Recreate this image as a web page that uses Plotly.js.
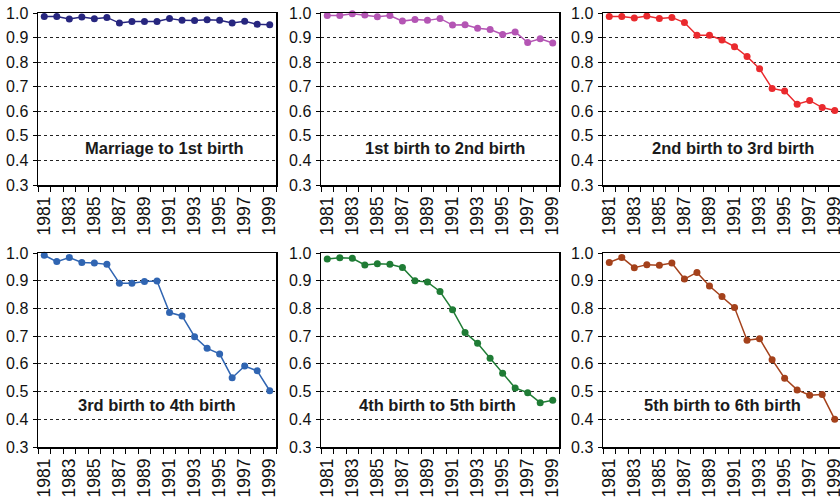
<!DOCTYPE html>
<html>
<head>
<meta charset="utf-8">
<script src="https://cdn.plot.ly/plotly-3.0.1.min.js"></script>
<style>
  html, body { margin: 0; padding: 0; overflow: hidden; background: #fff; }
  #chart { width: 842px; height: 498px; }
</style>
</head>
<body>
<div id="chart"></div>
<script>
// Survival ratios of birth-interval transitions, 1981-1999
const years = [1981, 1982, 1983, 1984, 1985, 1986, 1987, 1988, 1989, 1990,
               1991, 1992, 1993, 1994, 1995, 1996, 1997, 1998, 1999];
const tickYears = [1981, 1983, 1985, 1987, 1989, 1991, 1993, 1995, 1997, 1999];

const marriageTo1st = [0.986, 0.986, 0.976, 0.984, 0.977, 0.982, 0.959, 0.965, 0.965, 0.965,
                       0.978, 0.970, 0.969, 0.973, 0.970, 0.959, 0.966, 0.954, 0.952];
const first2second  = [0.990, 0.990, 0.997, 0.992, 0.985, 0.990, 0.967, 0.974, 0.970, 0.978,
                       0.951, 0.952, 0.938, 0.933, 0.913, 0.923, 0.880, 0.895, 0.878];
const second2third  = [0.986, 0.986, 0.980, 0.988, 0.978, 0.982, 0.961, 0.909, 0.909, 0.890,
                       0.863, 0.823, 0.773, 0.693, 0.683, 0.629, 0.644, 0.615, 0.603];
const third2fourth  = [0.992, 0.969, 0.984, 0.966, 0.964, 0.959, 0.891, 0.891, 0.897, 0.899,
                       0.785, 0.773, 0.698, 0.656, 0.636, 0.550, 0.592, 0.575, 0.503];
const fourth2fifth  = [0.978, 0.983, 0.981, 0.957, 0.961, 0.959, 0.948, 0.900, 0.895, 0.861,
                       0.795, 0.713, 0.674, 0.620, 0.566, 0.513, 0.496, 0.460, 0.469];
const fifth2sixth   = [0.966, 0.984, 0.947, 0.958, 0.956, 0.964, 0.906, 0.930, 0.881, 0.843,
                       0.803, 0.685, 0.691, 0.615, 0.548, 0.506, 0.487, 0.489, 0.400];

const panelLabels = ["Marriage to 1st birth", "1st birth to 2nd birth", "2nd birth to 3rd birth",
                     "3rd birth to 4th birth", "4th birth to 5th birth", "5th birth to 6th birth"];
const panelSeries = [marriageTo1st, first2second, second2third, third2fourth, fourth2fifth, fifth2sixth];

// styling
const lineColors = ["#27267f", "#b455b4", "#ea2a2e", "#3065b2", "#1f7c35", "#a4411b"];
const W = 842, H = 498;
const colPx = [[38, 276], [321, 559], [603, 841]];
const rowPx = [[13, 185], [253, 447]];
const labelX = [0.53, 0.52, 0.545, 0.5, 0.49, 0.5];
const fontFam = "Liberation Sans, Arial, sans-serif";
const yearFont = "Liberation Sans Narrow, Arial Narrow, Liberation Sans, sans-serif";

const data = [];
const layout = {
  width: W, height: H,
  margin: {l: 0, r: 0, t: 0, b: 0},
  paper_bgcolor: "#fff", plot_bgcolor: "#fff",
  showlegend: false,
  font: {family: fontFam, color: "#111"},
  annotations: []
};

panelSeries.forEach((vals, i) => {
  const n = i + 1;
  const xa = n === 1 ? "x" : "x" + n;
  const ya = n === 1 ? "y" : "y" + n;
  const col = i % 3, row = Math.floor(i / 3);

  data.push({
    type: "scatter", mode: "lines+markers",
    x: years, y: vals, xaxis: xa, yaxis: ya,
    line: {color: lineColors[i], width: 1.5},
    marker: {color: lineColors[i], size: 7},
    cliponaxis: false
  });

  layout["xaxis" + (n === 1 ? "" : n)] = {
    domain: [colPx[col][0] / W, colPx[col][1] / W],
    anchor: ya,
    range: [years[0] - 0.5, years[years.length - 1] + 0.5],
    tickmode: "array",
    tickvals: tickYears,
    ticktext: tickYears.map(String),
    tickangle: -90,
    ticks: "",
    ticklabelstandoff: 3,
    ticklabeloverflow: "allow",
    tickfont: {size: 17.5, color: "#111", family: yearFont},
    minor: {ticks: "outside", tick0: years[0] - 0.5, dtick: 1, ticklen: 5, tickwidth: 1, tickcolor: "#000", showgrid: false},
    showgrid: false, zeroline: false,
    showline: true, linecolor: "#000", linewidth: 1.5, mirror: true,
    fixedrange: true
  };

  layout["yaxis" + (n === 1 ? "" : n)] = {
    domain: [1 - rowPx[row][1] / H, 1 - rowPx[row][0] / H],
    anchor: xa,
    range: [0.3, 1.0],
    tickmode: "linear", tick0: 0.3, dtick: 0.1,
    tickformat: ".1f",
    ticks: "outside", ticklen: 4, tickwidth: 1, tickcolor: "#000",
    ticklabelstandoff: 1,
    tickfont: {size: 16, color: "#111", family: fontFam},
    showgrid: true, gridcolor: "#222", gridwidth: 1, griddash: "3px,3px",
    zeroline: false,
    showline: true, linecolor: "#000", linewidth: 1.5, mirror: true,
    fixedrange: true
  };

  layout.annotations.push({
    text: "<b>" + panelLabels[i] + "</b>",
    xref: xa + " domain", yref: ya,
    x: labelX[i], y: 0.45,
    xanchor: "center", yanchor: "middle",
    showarrow: false,
    font: {size: 16.5, color: "#1a1a1a", family: fontFam}
  });
});

Plotly.newPlot("chart", data, layout, {displayModeBar: false, staticPlot: true});
</script>
</body>
</html>
